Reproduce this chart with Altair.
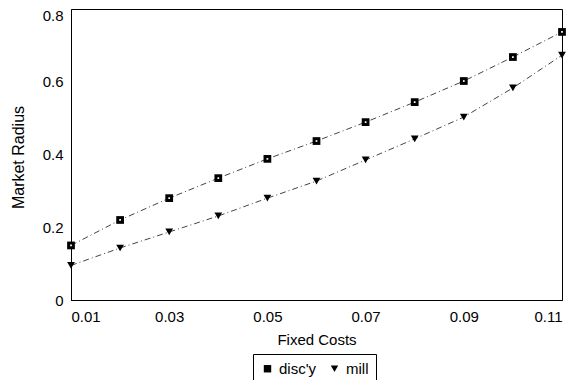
import altair as alt
import pandas as pd

fixed_costs = [0.01, 0.02, 0.03, 0.04, 0.05, 0.06, 0.07, 0.08, 0.09, 0.10, 0.11]
disc_y = [0.150, 0.220, 0.280, 0.335, 0.388, 0.437, 0.489, 0.544, 0.602, 0.668, 0.737]
mill = [0.095, 0.143, 0.187, 0.231, 0.280, 0.327, 0.385, 0.443, 0.503, 0.583, 0.673]
series_names = ["disc'y", "mill"]
x_ticks = [0.01, 0.03, 0.05, 0.07, 0.09, 0.11]
y_ticks = [0, 0.2, 0.4, 0.6, 0.8]

rows = []
for name, vals in zip(series_names, [disc_y, mill]):
    for xv, yv in zip(fixed_costs, vals):
        rows.append({"x": xv, "y": yv, "series": name})
df = pd.DataFrame(rows)

FONT = "Liberation Sans"

x_enc = alt.X("x:Q",
              scale=alt.Scale(domain=[0.01, 0.11], nice=False, zero=False),
              axis=alt.Axis(title="Fixed Costs", values=x_ticks, format=".2f",
                            grid=False, ticks=False, labelPadding=9,
                            titleY=39, titleBaseline="middle",
                            labelFontSize=15, titleFontSize=15,
                            labelFont=FONT, titleFont=FONT,
                            titleFontWeight="normal", labelColor="black",
                            titleColor="black", domainColor="black"))
y_enc = alt.Y("y:Q",
              scale=alt.Scale(domain=[0, 0.8], nice=False),
              axis=alt.Axis(title="Market Radius", values=y_ticks,
                            labelExpr="datum.value == 0 ? '0' : format(datum.value, '.1f')",
                            labelBaseline={"condition": {"test": "datum.value >= 0.79", "value": "top"}, "value": "middle"},
                            labelOffset={"condition": {"test": "datum.value >= 0.79", "value": -1}, "value": 0},
                            grid=False, ticks=False, labelPadding=8,
                            titleX=-53, titleY=148, titleBaseline="middle",
                            labelFontSize=15, titleFontSize=16,
                            labelFont=FONT, titleFont=FONT,
                            titleFontWeight="normal", labelColor="black",
                            titleColor="black", domainColor="black"))

lines = alt.Chart(df).mark_line(strokeWidth=1, strokeDash=[6, 3, 1, 3], color="#444444").encode(
    x=x_enc, y=y_enc, detail="series:N")

points = alt.Chart(df).mark_point(filled=True, color="black", opacity=1, size=60).encode(
    x="x:Q", y="y:Q",
    shape=alt.Shape("series:N",
                    scale=alt.Scale(domain=series_names, range=["square", "triangle-down"]),
                    legend=alt.Legend(title=None, orient="none", legendX=182, legendY=345,
                                      direction="horizontal", strokeColor="black",
                                      padding=7, labelFontSize=15, labelFont=FONT,
                                      labelColor="black", symbolSize=55,
                                      symbolFillColor="black", symbolStrokeColor="black",
                                      columnPadding=10, labelOffset=4)))

dots = alt.Chart(df[df["series"] == "disc'y"]).mark_point(filled=True, color="white", opacity=1, size=3, shape="square").encode(
    x="x:Q", y="y:Q")

chart = alt.layer(lines, points, dots).properties(
    width=491, height=291,
    autosize=alt.AutoSizeParams(type="none"),
    padding={"left": 63, "top": 1, "right": 5, "bottom": 80},
    background="white",
).configure_view(stroke="black", strokeWidth=1)

chart.save("out.html", embed_options={"renderer": "svg", "actions": False})
